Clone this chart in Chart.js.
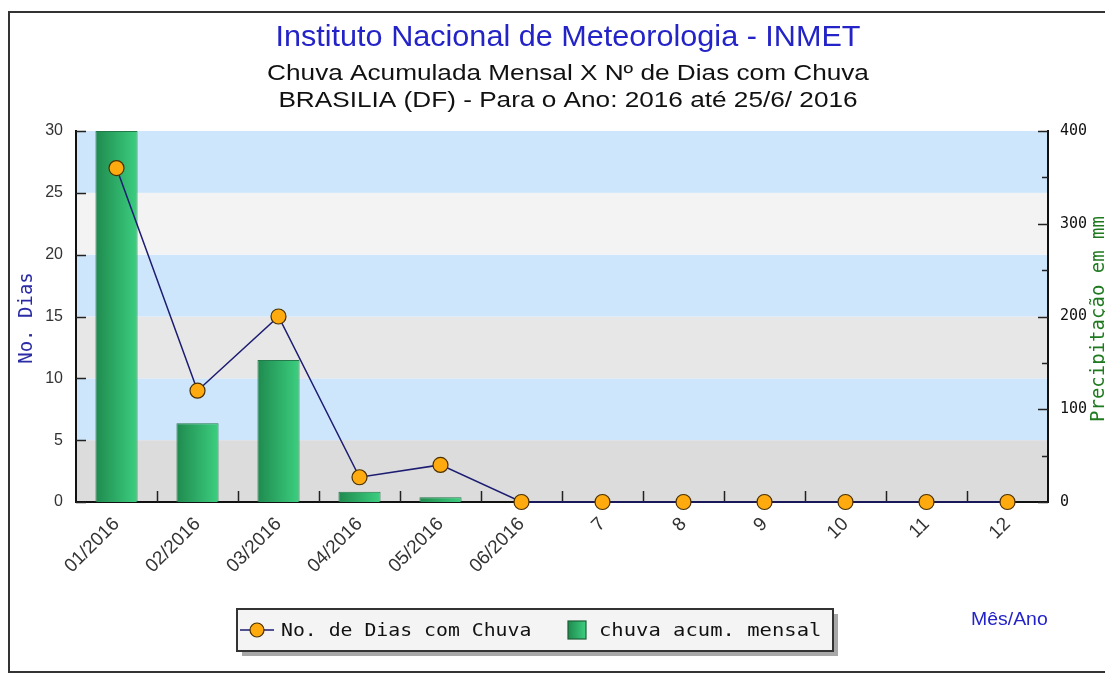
<!DOCTYPE html>
<html>
<head>
<meta charset="utf-8">
<script src="https://cdn.jsdelivr.net/npm/chart.js@4"></script>
<style>
html,body{margin:0;padding:0;background:#fff;}
#wrap{width:1105px;height:674px;position:relative;}
canvas{display:block;}
</style>
</head>
<body>
<div id="wrap"><canvas id="c" width="1105" height="674"></canvas></div>
<script>
const categories = ['01/2016','02/2016','03/2016','04/2016','05/2016','06/2016','7','8','9','10','11','12'];
const rainDays = [27, 9, 15, 2, 3, 0, 0, 0, 0, 0, 0, 0];
const rainMm = [400, 85, 153, 11, 5, 0, 0, 0, 0, 0, 0, 0];
const leftTicks = [0, 5, 10, 15, 20, 25, 30];
const rightTicks = [0, 100, 200, 300, 400];
const rightMinorTicks = [50, 150, 250, 350];
const titleText = 'Instituto Nacional de Meteorologia - INMET';
const subtitle1 = 'Chuva Acumulada Mensal X Nº de Dias com Chuva';
const subtitle2 = 'BRASILIA (DF) - Para o Ano: 2016 até 25/6/ 2016';
const leftAxisTitle = 'No. Dias';
const rightAxisTitle = 'Precipitação em mm';
const xAxisTitle = 'Mês/Ano';

const MONO = '"DejaVu Sans Mono", monospace';
const SANS = '"Liberation Sans", Arial, sans-serif';

function barGradient(ctx) {
  const chart = ctx.chart;
  const xs = chart.scales.x;
  if (!xs || !chart.chartArea) return '#2fb266';
  const cx = xs.getPixelForValue(ctx.dataIndex);
  const w = xs.width / categories.length * 0.52;
  const g = chart.ctx.createLinearGradient(cx - w / 2, 0, cx + w / 2, 0);
  g.addColorStop(0, '#1f8a4e');
  g.addColorStop(1, '#3ccf80');
  return g;
}

function stretchText(c, text, x, y, sx) {
  c.save();
  c.translate(x, y);
  c.scale(sx, 1);
  c.fillText(text, 0, 0);
  c.restore();
}

const decor = {
  id: 'decor',
  beforeDraw(chart) {
    const c = chart.ctx;
    const a = chart.chartArea;
    const y = chart.scales.y;
    c.save();
    c.fillStyle = '#fff';
    c.fillRect(0, 0, chart.width, chart.height);
    c.strokeStyle = '#333';
    c.lineWidth = 2;
    c.strokeRect(9, 12, 1110, 660);
    const bandColors = ['#dcdcdc', '#cde6fb', '#e7e7e7', '#cde6fb', '#f3f3f3', '#cde6fb'];
    for (let i = 0; i < leftTicks.length - 1; i++) {
      const y0 = y.getPixelForValue(leftTicks[i]);
      const y1 = y.getPixelForValue(leftTicks[i + 1]);
      c.fillStyle = bandColors[i];
      c.fillRect(a.left, y1, a.right - a.left, y0 - y1);
    }
    c.restore();
  },
  beforeDatasetsDraw(chart) {
    const c = chart.ctx;
    const a = chart.chartArea;
    const y = chart.scales.y, y1 = chart.scales.y1, x = chart.scales.x;
    c.save();
    c.strokeStyle = '#222';
    c.lineWidth = 1.5;
    c.beginPath();
    leftTicks.forEach(v => {
      const p = Math.round(y.getPixelForValue(v)) + 0.5;
      c.moveTo(a.left, p); c.lineTo(a.left + 10, p);
    });
    rightTicks.forEach(v => {
      const p = Math.round(y1.getPixelForValue(v)) + 0.5;
      c.moveTo(a.right, p); c.lineTo(a.right - 10, p);
    });
    rightMinorTicks.forEach(v => {
      const p = Math.round(y1.getPixelForValue(v)) + 0.5;
      c.moveTo(a.right, p); c.lineTo(a.right - 6, p);
    });
    for (let i = 1; i < categories.length; i++) {
      const p = Math.round((x.getPixelForValue(i - 1) + x.getPixelForValue(i)) / 2) + 0.5;
      c.moveTo(p, a.bottom); c.lineTo(p, a.bottom - 11);
    }
    c.stroke();
    c.restore();
  },
  afterDraw(chart) {
    const c = chart.ctx;
    c.save();
    c.textAlign = 'center';
    c.textBaseline = 'alphabetic';
    c.fillStyle = '#2323c8';
    c.font = '30px ' + SANS;
    stretchText(c, titleText, 568, 46, 1.02);
    c.fillStyle = '#111';
    c.font = '22px ' + SANS;
    stretchText(c, subtitle1, 568, 80, 1.19);
    stretchText(c, subtitle2, 568, 107, 1.19);
    // axis titles
    c.save();
    c.translate(27, 318);
    c.rotate(-Math.PI / 2);
    c.fillStyle = '#2b2ba6';
    c.font = '19px ' + MONO;
    c.textBaseline = 'middle';
    c.fillText(leftAxisTitle, 0, 0);
    c.restore();
    c.save();
    c.translate(1099, 319);
    c.rotate(-Math.PI / 2);
    c.fillStyle = '#1f7a1f';
    c.font = '19px ' + MONO;
    c.textBaseline = 'middle';
    c.fillText(rightAxisTitle, 0, 0);
    c.restore();
    c.fillStyle = '#2323c8';
    c.font = '18px ' + SANS;
    c.textAlign = 'left';
    c.textBaseline = 'middle';
    stretchText(c, xAxisTitle, 971, 620, 1.08);
    // legend
    const lx = 237, ly = 609, lw = 596, lh = 42;
    c.fillStyle = '#a8a8a8';
    c.fillRect(lx + 5, ly + 5, lw, lh);
    c.fillStyle = '#f4f4f4';
    c.fillRect(lx, ly, lw, lh);
    c.strokeStyle = '#333';
    c.lineWidth = 2;
    c.strokeRect(lx, ly, lw, lh);
    const ds0 = chart.data.datasets[0], ds1 = chart.data.datasets[1];
    const cy = ly + lh / 2;
    c.strokeStyle = ds0.borderColor;
    c.lineWidth = 1.5;
    c.beginPath(); c.moveTo(lx + 3, cy); c.lineTo(lx + 37, cy); c.stroke();
    c.beginPath(); c.arc(lx + 20, cy, 7, 0, Math.PI * 2);
    c.fillStyle = ds0.pointBackgroundColor; c.fill();
    c.strokeStyle = ds0.pointBorderColor; c.lineWidth = 1.2; c.stroke();
    c.fillStyle = '#111';
    c.font = '18px ' + MONO;
    c.textAlign = 'left';
    c.textBaseline = 'middle';
    stretchText(c, ds0.label, lx + 44, cy + 1, 1.1);
    const sx = 568;
    const g = c.createLinearGradient(sx, 0, sx + 18, 0);
    g.addColorStop(0, '#1f8a4e'); g.addColorStop(1, '#3ccf80');
    c.fillStyle = g;
    c.fillRect(sx, cy - 9, 18, 18);
    c.strokeStyle = '#1d5e36'; c.lineWidth = 1.2;
    c.strokeRect(sx, cy - 9, 18, 18);
    c.fillStyle = '#111';
    stretchText(c, ds1.label, sx + 31, cy + 1, 1.14);
    c.restore();
  }
};

new Chart(document.getElementById('c'), {
  data: {
    labels: categories,
    datasets: [
      {
        type: 'line',
        label: 'No. de Dias com Chuva',
        data: rainDays,
        yAxisID: 'y',
        borderColor: '#1c1c72',
        borderWidth: 1.5,
        pointBackgroundColor: '#ffab0f',
        pointBorderColor: '#4a3000',
        pointBorderWidth: 1.2,
        pointRadius: 7.5,
        pointHoverRadius: 7.5,
        tension: 0,
        clip: false,
        order: 0
      },
      {
        type: 'bar',
        label: 'chuva acum. mensal',
        data: rainMm,
        yAxisID: 'y1',
        backgroundColor: barGradient,
        borderColor: '#23794a',
        borderWidth: ctx => (ctx.raw > 0 ? 1 : 0),
        borderSkipped: 'bottom',
        barPercentage: 0.52,
        categoryPercentage: 1,
        order: 1
      }
    ]
  },
  options: {
    responsive: false,
    animation: false,
    events: [],
    layout: { padding: { top: 131, left: 0, right: 0, bottom: 0 } },
    plugins: { legend: { display: false }, title: { display: false }, tooltip: { enabled: false } },
    scales: {
      x: {
        grid: { display: false, drawTicks: false },
        border: { display: true, color: '#111', width: 2 },
        ticks: { color: '#333', font: { family: SANS, size: 19 }, maxRotation: 45, minRotation: 45, padding: 11, autoSkip: false },
        afterFit(s) { s.height = 172; }
      },
      y: {
        position: 'left',
        min: 0, max: 30,
        afterBuildTicks(s) { s.ticks = leftTicks.map(v => ({ value: v })); },
        grid: { display: false, drawTicks: false },
        border: { display: true, color: '#111', width: 2 },
        ticks: { color: '#333', font: { family: SANS, size: 16 }, padding: 13 },
        afterFit(s) { s.width = 76; }
      },
      y1: {
        position: 'right',
        min: 0, max: 400,
        afterBuildTicks(s) { s.ticks = rightTicks.map(v => ({ value: v })); },
        grid: { display: false, drawTicks: false },
        border: { display: true, color: '#111', width: 2 },
        ticks: { color: '#111', font: { family: MONO, size: 15 }, padding: 12 },
        afterFit(s) { s.width = 57; }
      }
    }
  },
  plugins: [decor]
});
</script>
</body>
</html>
